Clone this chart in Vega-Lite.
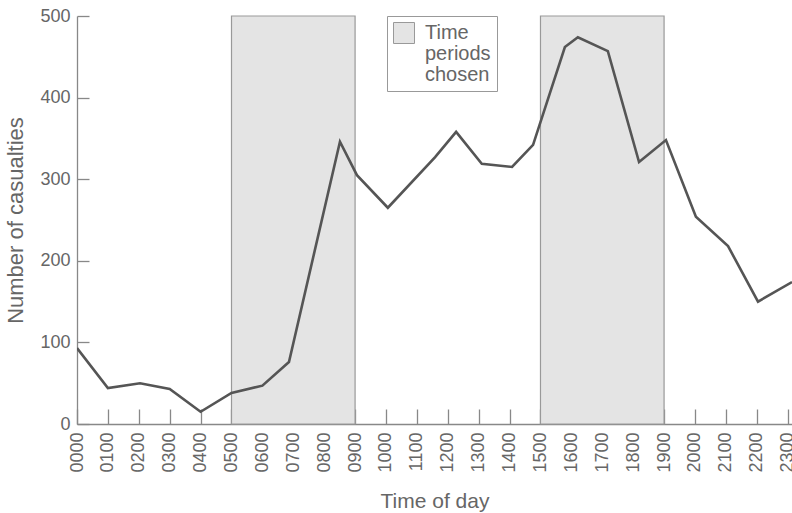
{
  "$schema": "https://vega.github.io/schema/vega-lite/v6.json",
  "width": 715,
  "height": 408,
  "autosize": {"type": "none"},
  "padding": {"left": 77, "top": 16, "right": 0, "bottom": 89},
  "background": "white",
  "config": {
    "view": {"stroke": null},
    "font": "Liberation Sans",
    "axis": {
      "labelFontSize": 18,
      "labelColor": "#666666",
      "labelOverlap": false,
      "labelFlush": false,
      "tickColor": "#888888",
      "tickWidth": 1.3,
      "domainColor": "#888888",
      "domainWidth": 1.3,
      "grid": false,
      "titleFontWeight": "normal",
      "titleColor": "#666666"
    },
    "axisX": {"labelAngle": 270, "labelPadding": 23, "tickSize": -15, "titleFontSize": 21, "titlePadding": 18},
    "axisY": {"labelPadding": 19, "tickSize": -12, "titleFontSize": 22, "titlePadding": 12}
  },
  "datasets": {
    "periods": [
      {"start": 5, "end": 9, "label": "Time periods chosen"},
      {"start": 15, "end": 19, "label": "Time periods chosen"}
    ],
    "casualties": [
      {"hour": 0, "casualties": 93},
      {"hour": 1.0, "casualties": 44},
      {"hour": 2.04, "casualties": 50},
      {"hour": 3.0, "casualties": 43},
      {"hour": 4.0, "casualties": 15},
      {"hour": 5.0, "casualties": 38},
      {"hour": 6.0, "casualties": 47},
      {"hour": 6.86, "casualties": 76},
      {"hour": 8.51, "casualties": 346},
      {"hour": 9.06, "casualties": 305},
      {"hour": 10.06, "casualties": 265},
      {"hour": 11.59, "casualties": 327},
      {"hour": 12.27, "casualties": 358},
      {"hour": 13.1, "casualties": 319},
      {"hour": 14.08, "casualties": 315},
      {"hour": 14.76, "casualties": 342},
      {"hour": 15.79, "casualties": 462},
      {"hour": 16.21, "casualties": 474},
      {"hour": 17.18, "casualties": 457},
      {"hour": 18.19, "casualties": 321},
      {"hour": 19.06, "casualties": 348},
      {"hour": 20.03, "casualties": 254},
      {"hour": 21.07, "casualties": 218},
      {"hour": 22.04, "casualties": 150},
      {"hour": 23.14, "casualties": 174}
    ]
  },
  "layer": [
    {
      "data": {"name": "periods"},
      "mark": {"type": "rect", "stroke": "#999999", "strokeWidth": 1.2},
      "encoding": {
        "x": {
          "field": "start",
          "type": "quantitative",
          "scale": {"domain": [0, 23.14], "nice": false, "zero": false},
          "axis": {
            "title": "Time of day",
            "values": [0, 1, 2, 3, 4, 5, 6, 7, 8, 9, 10, 11, 12, 13, 14, 15, 16, 17, 18, 19, 20, 21, 22, 23],
            "labelExpr": "(datum.value < 10 ? '0' : '') + datum.value + '00'",
            "labelOverlap": false
          }
        },
        "x2": {"field": "end"},
        "y": {
          "datum": 0,
          "type": "quantitative",
          "scale": {"domain": [0, 500], "nice": false},
          "axis": {
            "title": "Number of casualties",
            "values": [0, 100, 200, 300, 400, 500]
          }
        },
        "y2": {"datum": 500},
        "color": {
          "field": "label",
          "type": "nominal",
          "scale": {"range": ["#e4e4e4"]},
          "legend": {
            "title": null,
            "orient": "none",
            "legendX": 310,
            "legendY": 0,
            "strokeColor": "#999999",
            "padding": 6,
            "symbolType": "square",
            "symbolSize": 441,
            "symbolStrokeColor": "#999999",
            "symbolStrokeWidth": 1,
            "symbolOpacity": 1,
            "labelFontSize": 20,
            "labelColor": "#666666",
            "labelLimit": 0,
            "labelExpr": "split(datum.label, ' ')",
            "labelOffset": 10,
            "encode": {"labels": {"update": {"lineHeight": {"value": 21}}}}
          }
        }
      }
    },
    {
      "data": {"name": "casualties"},
      "mark": {"type": "line", "color": "#555555", "strokeWidth": 2.6, "clip": true},
      "encoding": {
        "x": {
          "field": "hour",
          "type": "quantitative",
          "axis": {
            "title": "Time of day",
            "values": [0, 1, 2, 3, 4, 5, 6, 7, 8, 9, 10, 11, 12, 13, 14, 15, 16, 17, 18, 19, 20, 21, 22, 23],
            "labelExpr": "(datum.value < 10 ? '0' : '') + datum.value + '00'",
            "labelOverlap": false
          }
        },
        "y": {
          "field": "casualties",
          "type": "quantitative",
          "axis": {
            "title": "Number of casualties",
            "values": [0, 100, 200, 300, 400, 500]
          }
        }
      }
    }
  ]
}
